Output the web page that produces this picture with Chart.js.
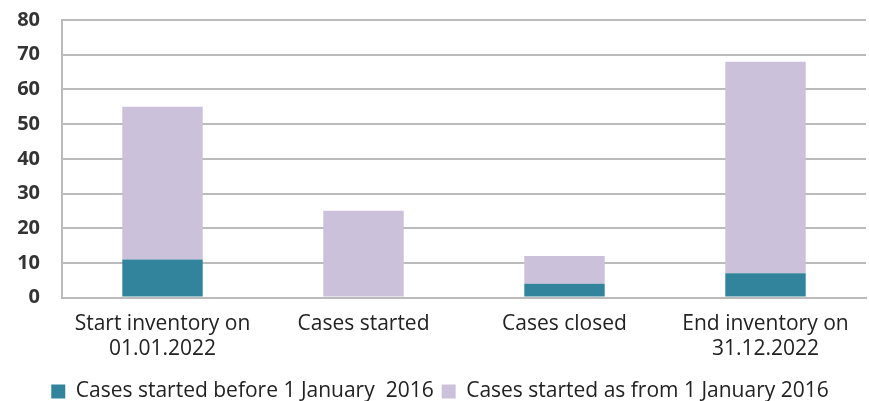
<!DOCTYPE html>
<html>
<head>
<meta charset="utf-8">
<script src="https://cdn.jsdelivr.net/npm/chart.js@4"></script>
<style>
  html, body { margin: 0; padding: 0; background: #fff; }
  #wrap { width: 869px; height: 401px; }
</style>
</head>
<body>
<div id="wrap"><canvas id="myChart"></canvas></div>
<script>
// data
const categories = [
  ["Start inventory on", "01.01.2022"],
  "Cases started",
  "Cases closed",
  ["End inventory on", "31.12.2022"]
];
const seriesNames = ["Cases started before 1 January  2016", "Cases started as from 1 January 2016"];
const before2016 = [11, 0, 4, 7];
const from2016 = [44, 25, 8, 61];
const yTicks = [0, 10, 20, 30, 40, 50, 60, 70, 80];

const ctx = document.getElementById('myChart').getContext('2d');
const fam = "'Open Sans', 'Noto Sans', sans-serif";

new Chart(ctx, {
  type: "bar",
  data: {
    labels: categories,
    datasets: [
      { label: seriesNames[0], data: before2016, backgroundColor: "#31849B" },
      { label: seriesNames[1], data: from2016, backgroundColor: "#CCC1DA" }
    ]
  },
  options: {
    responsive: true,
    maintainAspectRatio: false,
    animation: false,
    layout: { padding: { top: 0, right: 3, left: 14, bottom: -11 } },
    datasets: { bar: { categoryPercentage: 1, barPercentage: 0.4 } },
    plugins: {
      legend: {
        position: "bottom",
        labels: {
          boxWidth: 14, boxHeight: 14, padding: 8,
          color: "#222",
          font: { family: fam, size: 21 }
        }
      },
      tooltip: { enabled: false }
    },
    scales: {
      x: {
        stacked: true,
        grid: { display: false },
        border: { color: "#bbb", width: 2 },
        afterFit: (axis) => { axis.height += 5; },
        ticks: {
          color: "#222", padding: 6,
          font: { family: fam, size: 21, lineHeight: 1.2 }
        }
      },
      y: {
        stacked: true,
        min: 0, max: 80,
        afterBuildTicks: (axis) => { axis.ticks = yTicks.map(v => ({ value: v })); },
        afterFit: (axis) => { axis.paddingTop = 20; axis.width = 48; },
        grid: { color: "#bbb", lineWidth: 2, drawTicks: false },
        border: { color: "#bbb", width: 2 },
        ticks: {
          color: "#333", padding: 22,
          font: { family: fam, size: 20, weight: "bold" }
        }
      }
    }
  }
});
</script>
</body>
</html>
